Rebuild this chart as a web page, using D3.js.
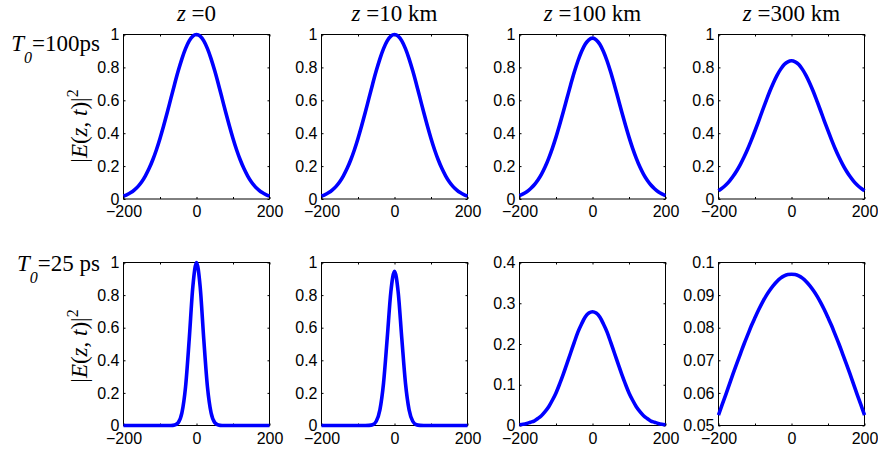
<!DOCTYPE html>
<html>
<head>
<meta charset="utf-8">
<script src="https://cdn.jsdelivr.net/npm/d3@7"></script>
<style>
  html, body { margin: 0; padding: 0; background: #fff; }
  svg { display: block; }
  .tick text { font-family: "Liberation Sans", Arial, Helvetica, sans-serif; font-size: 16px; fill: #000; }
  .serif { font-family: "Liberation Serif", "Times New Roman", serif; fill: #000; }
</style>
</head>
<body>
<svg id="chart" width="878" height="452"></svg>
<script>
// Time axis (ps), sampled every 10 ps
const timePs = [-200,-190,-180,-170,-160,-150,-140,-130,-120,-110,-100,-90,-80,-70,-60,-50,-40,-30,-20,-10,
  0,10,20,30,40,50,60,70,80,90,100,110,120,130,140,150,160,170,180,190,200];

// Column titles (propagation distance)
const distances = ["0", "10 km", "100 km", "300 km"];
// Row labels (input pulse width)
const rowLabels = [["T", "0", "=100ps"], ["T", "0", "=25 ps"]];

// |E(z,t)|^2 for T0 = 100 ps
const wide_z0 = [0.018,0.027,0.039,0.056,0.077,0.105,0.141,0.185,0.237,0.298,0.368,0.445,0.527,0.613,0.698,0.779,0.852,0.914,0.961,0.990,
  1.000,0.990,0.961,0.914,0.852,0.779,0.698,0.613,0.527,0.445,0.368,0.298,0.237,0.185,0.141,0.105,0.077,0.056,0.039,0.027,0.018];
const wide_z10 = [0.018,0.027,0.039,0.056,0.077,0.105,0.141,0.185,0.237,0.298,0.368,0.445,0.527,0.613,0.698,0.779,0.852,0.914,0.961,0.990,
  1.000,0.990,0.961,0.914,0.852,0.779,0.698,0.613,0.527,0.445,0.368,0.298,0.237,0.185,0.141,0.105,0.077,0.056,0.039,0.027,0.018];
const wide_z100 = [0.021,0.031,0.044,0.062,0.085,0.114,0.150,0.194,0.247,0.308,0.376,0.451,0.531,0.612,0.693,0.770,0.839,0.897,0.941,0.968,
  0.978,0.968,0.941,0.897,0.839,0.770,0.693,0.612,0.531,0.451,0.376,0.308,0.247,0.194,0.150,0.114,0.085,0.062,0.044,0.031,0.021];
const wide_z300 = [0.050,0.066,0.085,0.109,0.138,0.172,0.211,0.255,0.304,0.358,0.415,0.474,0.535,0.594,0.652,0.704,0.750,0.788,0.817,0.834,
  0.840,0.834,0.817,0.788,0.750,0.704,0.652,0.594,0.535,0.474,0.415,0.358,0.304,0.255,0.211,0.172,0.138,0.109,0.085,0.066,0.050];

// |E(z,t)|^2 for T0 = 25 ps
const narrow_z0 = [0,0,0,0,0,0,0,0,0,0,0,0,0,0.000,0.003,0.018,0.077,0.237,0.527,0.852,
  1.000,0.852,0.527,0.237,0.077,0.018,0.003,0.000,0,0,0,0,0,0,0,0,0,0,0,0,0];
const narrow_z10 = [0,0,0,0,0,0,0,0,0,0,0,0,0,0.001,0.005,0.026,0.096,0.261,0.534,0.820,
  0.946,0.820,0.534,0.261,0.096,0.026,0.005,0.001,0,0,0,0,0,0,0,0,0,0,0,0,0];
const narrow_z100 = [0.002,0.003,0.005,0.008,0.011,0.017,0.024,0.034,0.046,0.062,0.080,0.102,0.126,0.152,0.178,0.204,0.229,0.249,0.266,0.276,
  0.279,0.276,0.266,0.249,0.229,0.204,0.178,0.152,0.126,0.102,0.080,0.062,0.046,0.034,0.024,0.017,0.011,0.008,0.005,0.003,0.002];
const narrow_z300 = [0.0532,0.0564,0.0595,0.0627,0.0659,0.0690,0.0720,0.0750,0.0778,0.0806,0.0831,0.0855,0.0877,0.0897,0.0914,0.0929,0.0942,0.0952,0.0959,0.0963,
  0.0964,0.0963,0.0959,0.0952,0.0942,0.0929,0.0914,0.0897,0.0877,0.0855,0.0831,0.0806,0.0778,0.0750,0.0720,0.0690,0.0659,0.0627,0.0595,0.0564,0.0532];

// Tick values
const xTicks = [-200, -100, 0, 100, 200];
const xTickLabels = [-200, 0, 200];
const yTicksUnit = [0, 0.2, 0.4, 0.6, 0.8, 1];
const yTicksTenth = [0, 0.1, 0.2, 0.3, 0.4];
const yTicksSmall = [0.05, 0.06, 0.07, 0.08, 0.09, 0.1];

// Panel grid: [row][col]
const series = [
  [wide_z0, wide_z10, wide_z100, wide_z300],
  [narrow_z0, narrow_z10, narrow_z100, narrow_z300]
];
const yDomains = [
  [[0, 1], [0, 1], [0, 1], [0, 1]],
  [[0, 1], [0, 1], [0, 0.4], [0.05, 0.1]]
];
const yTickSets = [
  [yTicksUnit, yTicksUnit, yTicksUnit, yTicksUnit],
  [yTicksUnit, yTicksUnit, yTicksTenth, yTicksSmall]
];

// Layout
const colLeft = [123.5, 321.5, 519.5, 718.5];
const panelW = 146;
const rowTop = [34.5, 262.5];
const panelH = [164.5, 163];

const svg = d3.select("#chart");
const fmt = d3.format("~g");

series.forEach((row, r) => {
  row.forEach((vals, c) => {
    const x0 = colLeft[c], y0 = rowTop[r], h = panelH[r];
    const x = d3.scaleLinear().domain([-200, 200]).range([x0, x0 + panelW]);
    const y = d3.scaleLinear().domain(yDomains[r][c]).range([y0 + h, y0]);
    const g = svg.append("g");

    // bottom axis with labels, top axis ticks only
    const bottom = g.append("g").attr("transform", `translate(0,${y0 + h})`)
      .call(d3.axisBottom(x).tickValues(xTicks).tickSize(-2).tickPadding(7)
        .tickFormat(d => xTickLabels.includes(d) ? fmt(d) : ""));
    const top = g.append("g").attr("transform", `translate(0,${y0})`)
      .call(d3.axisTop(x).tickValues(xTicks).tickSize(-2).tickFormat(""));
    const left = g.append("g").attr("transform", `translate(${x0},0)`)
      .call(d3.axisLeft(y).tickValues(yTickSets[r][c]).tickSize(-2).tickPadding(4).tickFormat(fmt));
    const right = g.append("g").attr("transform", `translate(${x0 + panelW},0)`)
      .call(d3.axisRight(y).tickValues(yTickSets[r][c]).tickSize(-2).tickFormat(""));
    [bottom, top, left, right].forEach(a => {
      a.select(".domain").remove();
      a.selectAll(".tick line").attr("stroke", "#000");
    });

    // box
    g.append("rect")
      .attr("x", x0).attr("y", y0).attr("width", panelW).attr("height", h)
      .attr("fill", "none").attr("stroke", "#000").attr("stroke-width", 1);

    // pulse
    const line = d3.line()
      .x((d, i) => x(timePs[i]))
      .y(d => y(d))
      .curve(d3.curveMonotoneX);
    g.append("path")
      .datum(vals)
      .attr("d", line)
      .attr("fill", "none")
      .attr("stroke", "#0000ff")
      .attr("stroke-width", 3.6);
  });
});

// column titles
distances.forEach((dstr, c) => {
  const t = svg.append("text").attr("class", "serif")
    .attr("x", colLeft[c] + panelW / 2).attr("y", 21)
    .attr("text-anchor", "middle").style("font-size", "23px");
  t.append("tspan").style("font-style", "italic").text("z");
  t.append("tspan").text(" =" + dstr);
});

// row labels
const rowLabelY = [50.5, 271];
rowLabels.forEach((parts, r) => {
  const t = svg.append("text").attr("class", "serif")
    .attr("x", 100).attr("y", rowLabelY[r])
    .attr("text-anchor", "end").style("font-size", "23px");
  t.append("tspan").style("font-style", "italic").text(parts[0]);
  t.append("tspan").style("font-style", "italic").style("font-size", "16px").attr("dy", 12).text(parts[1]);
  t.append("tspan").attr("dy", -12).text(parts[2]);
});

// y-axis labels
const yLabelCenter = [126, 346];
yLabelCenter.forEach(cy => {
  const t = svg.append("text").attr("class", "serif")
    .attr("transform", `translate(87,${cy}) rotate(-90)`)
    .attr("text-anchor", "middle").style("font-size", "23px");
  t.append("tspan").text("|");
  t.append("tspan").style("font-style", "italic").text("E");
  t.append("tspan").text("(");
  t.append("tspan").style("font-style", "italic").text("z");
  t.append("tspan").text(", ");
  t.append("tspan").style("font-style", "italic").text("t");
  t.append("tspan").text(")|");
  t.append("tspan").style("font-size", "16px").attr("dy", -9).text("2");
});
</script>
</body>
</html>
